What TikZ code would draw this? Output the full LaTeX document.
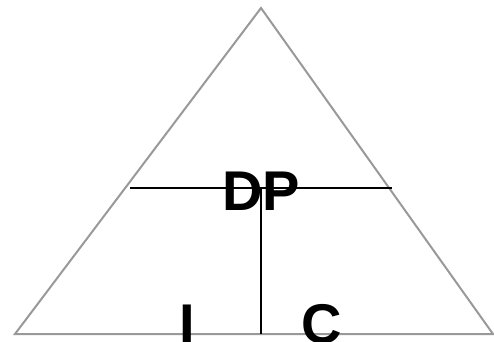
\documentclass[tikz,border=0pt]{standalone}
\usepackage{fontspec}
\setmainfont{Liberation Sans}
\usepackage{xcolor}
\usetikzlibrary{positioning}
\definecolor{trigray}{HTML}{999999}
\tikzset{
  tri/.style={draw=trigray, line width=2pt, line join=miter},
  split/.style={draw=black, line width=2pt},
  lbl/.style={font=\fontsize{56}{56}\selectfont\bfseries, inner sep=0pt, anchor=base},
}
\begin{document}
\begin{tikzpicture}[x=1pt, y=-1pt]
  \useasboundingbox (0,0) rectangle (494,341);
  \clip (0,0) rectangle (494,341);
  % triangle
  \coordinate (apex) at (261,8);
  \coordinate (bl) at (15,334);
  \coordinate (br) at (493,334);
  \draw[tri] (bl) -- (apex) -- (br) -- cycle;
  % dividing lines
  \coordinate (hl) at (130,188);
  \coordinate (hr) at (392,188);
  \coordinate (vt) at (261,188);
  \coordinate (vb) at (261,334);
  \draw[split] (hl) -- (hr);
  \draw[split] (vt) -- (vb);
  % labels
  \node[lbl] (dp) at (261,210) {DP};
  \node[lbl] (i) at (187,343) {I};
  \node[lbl] (c) at (322,343) {C};
\end{tikzpicture}
\end{document}
